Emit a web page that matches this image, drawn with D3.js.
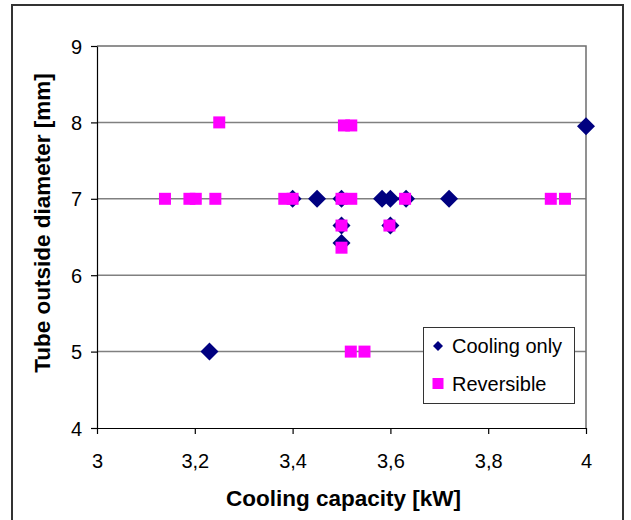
<!DOCTYPE html>
<html>
<head>
<meta charset="utf-8">
<script src="https://cdn.jsdelivr.net/npm/d3@7"></script>
<style>
  html, body { margin: 0; padding: 0; background: #fff; }
  svg { display: block; }
  text { font-family: "Liberation Sans", Arial, sans-serif; }
</style>
</head>
<body>
<svg id="chart" width="631" height="520"></svg>
<script>
// ---- data ----
const coolingX = [3.23, 3.40, 3.45, 3.50, 3.50, 3.50, 3.583, 3.60, 3.60, 3.632, 3.72, 4.00];
const coolingY = [5.0, 7.0, 7.0, 7.0, 6.65, 6.42, 7.0, 7.0, 6.65, 7.0, 7.0, 7.95];
const reversibleX = [3.139, 3.189, 3.202, 3.242, 3.25, 3.383, 3.40, 3.50, 3.52, 3.50, 3.50, 3.505, 3.52, 3.519, 3.547, 3.598, 3.63, 3.928, 3.957];
const reversibleY = [7.0, 7.0, 7.0, 7.0, 8.0, 7.0, 7.0, 7.0, 7.0, 6.65, 6.36, 7.96, 7.96, 5.0, 5.0, 6.65, 7.0, 7.0, 7.0];
const xTicks = [3, 3.2, 3.4, 3.6, 3.8, 4];
const yTicks = [4, 5, 6, 7, 8, 9];
const seriesNames = ["Cooling only", "Reversible"];
const seriesColors = ["#000080", "#FF00FF"];
const xTitle = "Cooling capacity [kW]";
const yTitle = "Tube outside diameter [mm]";

const svg = d3.select("#chart");
const L = 97, R = 586, T = 46, B = 428;
const x = d3.scaleLinear().domain([3, 4]).range([L, R]);
const y = d3.scaleLinear().domain([4, 9]).range([B, T]);
const fmt = d => String(d).replace(".", ",");

// outer frame
svg.append("rect").attr("x", 12).attr("y", 5).attr("width", 611).attr("height", 530)
  .attr("fill", "none").attr("stroke", "#333").attr("stroke-width", 2);

// gridlines
svg.append("g").selectAll("line").data(yTicks.filter(d => d > 4 && d < 9)).join("line")
  .attr("x1", L).attr("x2", R).attr("y1", d => y(d)).attr("y2", d => y(d))
  .attr("stroke", "#808080").attr("stroke-width", 1.5);

// plot border top/right
svg.append("path").attr("d", `M${L},${y(9)}H${R}V${B}`)
  .attr("fill", "none").attr("stroke", "#6e6e6e").attr("stroke-width", 1.5);

// axes
const gx = svg.append("g").attr("transform", `translate(0,${B})`)
  .call(d3.axisBottom(x).tickValues(xTicks).tickFormat(fmt).tickSize(6).tickSizeOuter(0));
const gy = svg.append("g").attr("transform", `translate(${L},0)`)
  .call(d3.axisLeft(y).tickValues(yTicks).tickFormat(fmt).tickSize(6).tickSizeOuter(0));
[gx, gy].forEach(g => {
  g.select(".domain").attr("stroke", "#000").attr("stroke-width", 1.2);
  g.selectAll(".tick line").attr("stroke", "#000").attr("stroke-width", 1.2);
  g.selectAll(".tick text").attr("font-size", 20).attr("fill", "#000")
    .attr("font-family", "'Liberation Sans', Arial, sans-serif");
});
gx.selectAll(".tick text").attr("dy", null).attr("y", 40);
gy.selectAll(".tick text").attr("x", -15).attr("dy", "0.35em");

// titles
svg.append("text").attr("x", (L + R) / 2 + 2).attr("y", 506).attr("text-anchor", "middle")
  .attr("font-size", 22.5).attr("font-weight", "bold").text(xTitle);
svg.append("text").attr("transform", "translate(50,223) rotate(-90)").attr("text-anchor", "middle")
  .attr("font-size", 22.5).attr("font-weight", "bold").text(yTitle);

// points
const diamond = d3.symbol().type(d3.symbolSquare).size(162);
const cooling = coolingX.map((v, i) => ({ x: v, y: coolingY[i] }));
const reversible = reversibleX.map((v, i) => ({ x: v, y: reversibleY[i] }));
svg.append("g").selectAll("path").data(cooling).join("path")
  .attr("d", diamond)
  .attr("transform", d => `translate(${x(d.x)},${y(d.y)}) rotate(45)`)
  .attr("fill", seriesColors[0]);
svg.append("g").selectAll("rect").data(reversible).join("rect")
  .attr("x", d => x(d.x) - 6).attr("y", d => y(d.y) - 6)
  .attr("width", 12).attr("height", 12)
  .attr("fill", seriesColors[1]);

// legend
const lg = svg.append("g");
lg.append("rect").attr("x", 423.5).attr("y", 327.5).attr("width", 151).attr("height", 76)
  .attr("fill", "#fff").attr("stroke", "#333").attr("stroke-width", 1);
lg.append("path").attr("d", d3.symbol().type(d3.symbolSquare).size(50))
  .attr("transform", "translate(438,346) rotate(45)").attr("fill", seriesColors[0]);
lg.append("rect").attr("x", 432.5).attr("y", 378).attr("width", 11).attr("height", 11)
  .attr("fill", seriesColors[1]);
lg.append("text").attr("x", 452).attr("y", 353).attr("font-size", 20).text(seriesNames[0]);
lg.append("text").attr("x", 452).attr("y", 391).attr("font-size", 20).text(seriesNames[1]);
</script>
</body>
</html>
